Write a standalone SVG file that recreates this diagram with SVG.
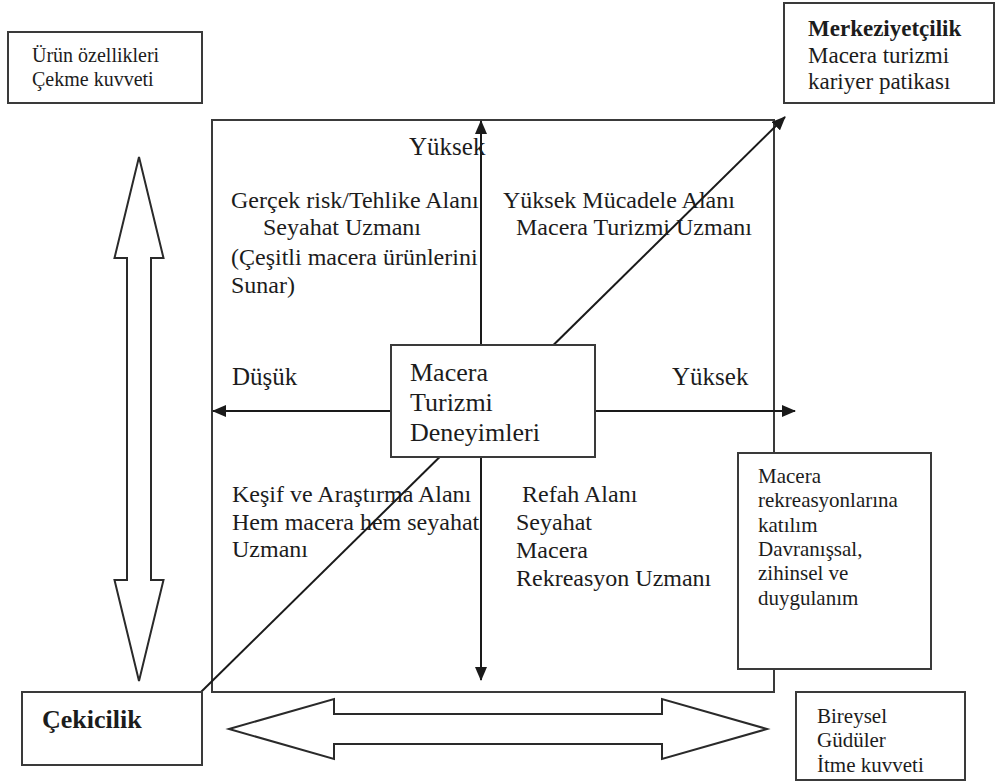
<svg xmlns="http://www.w3.org/2000/svg" width="998" height="784" viewBox="0 0 998 784">
  <defs>
    <marker id="ah" viewBox="0 0 14 12" refX="13" refY="6" markerWidth="14" markerHeight="12" markerUnits="userSpaceOnUse" orient="auto-start-reverse">
      <path d="M0,0 L14,6 L0,12 z" fill="#1a1a1a"/>
    </marker>
  </defs>
  <style>
    text { font-family: "Liberation Serif", "Times New Roman", serif; fill: #1c1c1c; }
    .box { fill: #ffffff; stroke: #3a3a3a; stroke-width: 2; }
    .frame { fill: none; stroke: #3a3a3a; stroke-width: 2; }
    .axis { stroke: #1a1a1a; stroke-width: 2; fill: none; }
    .hollow { fill: #ffffff; stroke: #2a2a2a; stroke-width: 2; stroke-linejoin: miter; }
    .q { font-size: 24px; }
    .lab { font-size: 25px; }
    .side { font-size: 21px; }
    .b { font-weight: bold; }
  </style>

  <rect width="998" height="784" fill="#ffffff"/>

  <!-- central matrix frame -->
  <rect id="frame" class="frame" x="212" y="120" width="562" height="572"/>

  <!-- connectors: axes, diagonal path and the two hollow force arrows -->
  <g id="connectors">
    <line class="axis" x1="481" y1="121" x2="481" y2="680" marker-start="url(#ah)" marker-end="url(#ah)"/>
    <line class="axis" x1="213" y1="411" x2="795" y2="411" marker-start="url(#ah)" marker-end="url(#ah)"/>
    <line class="axis" x1="201" y1="692" x2="785" y2="117" marker-end="url(#ah)"/>
    <polygon class="hollow" points="139,157 163.5,258 151,258 151,580 163.5,580 139,681 114.5,580 127,580 127,258 114.5,258"/>
    <polygon class="hollow" points="229,729 334,699 334,714 662,714 662,699 767,729 662,759 662,744 334,744 334,759"/>
  </g>

  <!-- axis labels -->
  <g id="axis-labels">
    <text class="lab" x="409" y="155">Yüksek</text>
    <text class="lab" x="232" y="385">Düşük</text>
    <text class="lab" x="672" y="385">Yüksek</text>
  </g>

  <!-- quadrants -->
  <g id="q-risk">
    <text class="q" x="231" y="208">Gerçek risk/Tehlike Alanı</text>
    <text class="q" x="263" y="235">Seyahat Uzmanı</text>
    <text class="q" x="231" y="265">(Çeşitli macera ürünlerini</text>
    <text class="q" x="231" y="293">Sunar)</text>
  </g>
  <g id="q-challenge">
    <text class="q" x="503" y="208">Yüksek Mücadele Alanı</text>
    <text class="q" x="516" y="235">Macera Turizmi Uzmanı</text>
  </g>
  <g id="q-explore">
    <text class="q" x="232" y="502">Keşif ve Araştırma Alanı</text>
    <text class="q" x="232" y="530">Hem macera hem seyahat</text>
    <text class="q" x="232" y="557">Uzmanı</text>
  </g>
  <g id="q-welfare">
    <text class="q" x="522" y="502">Refah Alanı</text>
    <text class="q" x="516" y="530">Seyahat</text>
    <text class="q" x="516" y="558">Macera</text>
    <text class="q" x="516" y="586">Rekreasyon Uzmanı</text>
  </g>

  <!-- nodes -->
  <g id="experiences">
    <rect class="box" x="391" y="345" width="204" height="112"/>
    <text x="410" y="381" font-size="26">Macera</text>
    <text x="410" y="411" font-size="26">Turizmi</text>
    <text x="410" y="441" font-size="26">Deneyimleri</text>
  </g>

  <g id="product">
    <rect class="box" x="8" y="32" width="194" height="71"/>
    <text x="32" y="62" font-size="20">Ürün özellikleri</text>
    <text x="32" y="86" font-size="20">Çekme kuvveti</text>
  </g>

  <g id="centrality">
    <rect class="box" x="784" y="3" width="210" height="100"/>
    <text class="b" x="808" y="36" font-size="23">Merkeziyetçilik</text>
    <text x="808" y="63" font-size="23">Macera turizmi</text>
    <text x="808" y="89" font-size="23">kariyer patikası</text>
  </g>

  <g id="participation">
    <rect class="box" x="738" y="453" width="193" height="216"/>
    <text class="side" x="758" y="483">Macera</text>
    <text class="side" x="758" y="507">rekreasyonlarına</text>
    <text class="side" x="758" y="532">katılım</text>
    <text class="side" x="758" y="556">Davranışsal,</text>
    <text class="side" x="758" y="580">zihinsel ve</text>
    <text class="side" x="758" y="605">duygulanım</text>
  </g>

  <g id="attraction">
    <rect class="box" x="22" y="692" width="180" height="73"/>
    <text class="b" x="42" y="728" font-size="26">Çekicilik</text>
  </g>

  <g id="motives">
    <rect class="box" x="796" y="692" width="169" height="88"/>
    <text class="side" x="817" y="723">Bireysel</text>
    <text class="side" x="817" y="747">Güdüler</text>
    <text class="side" x="817" y="772">İtme kuvveti</text>
  </g>
</svg>
